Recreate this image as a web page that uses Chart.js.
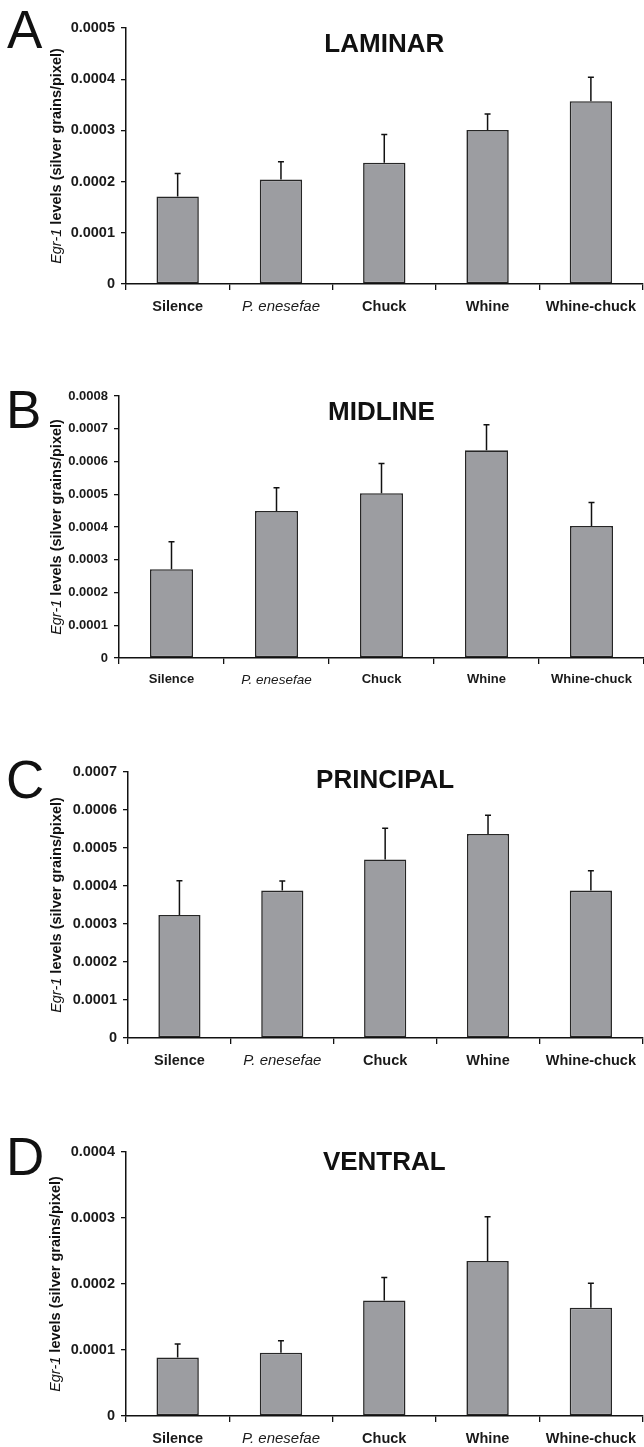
<!DOCTYPE html>
<html>
<head>
<meta charset="utf-8">
<script src="https://cdn.jsdelivr.net/npm/chart.js@4.4.1/dist/chart.umd.min.js"></script>
<style>
  html, body { margin: 0; padding: 0; background: #fff; overflow: hidden; }
  body { width: 644px; height: 1447px; position: relative; }
  canvas { position: absolute; left: 0; }
</style>
</head>
<body>
<canvas id="chartA" width="644" height="324"></canvas>
<canvas id="chartB" width="644" height="330"></canvas>
<canvas id="chartC" width="644" height="334"></canvas>
<canvas id="chartD" width="644" height="332"></canvas>
<script>
// data
const categories = ['Silence', 'P. enesefae', 'Chuck', 'Whine', 'Whine-chuck'];
const panelLetters = ['A', 'B', 'C', 'D'];
const panelTitles = ['LAMINAR', 'MIDLINE', 'PRINCIPAL', 'VENTRAL'];
const yMaxValues = [0.0005, 0.0008, 0.0007, 0.0004];
const yStep = 0.0001;

const laminarMeans   = [0.000171, 0.000204, 0.000237, 0.000301, 0.000357];
const laminarSE      = [0.000045, 0.000035, 0.000055, 0.000031, 0.000047];
const midlineMeans   = [0.000271, 0.000449, 0.000503, 0.000634, 0.000403];
const midlineSE      = [0.000084, 0.000071, 0.000091, 0.000078, 0.000072];
const principalMeans = [0.000324, 0.000388, 0.000470, 0.000537, 0.000388];
const principalSE    = [0.000090, 0.000025, 0.000082, 0.000049, 0.000052];
const ventralMeans   = [0.0000885, 0.000096, 0.000175, 0.000235, 0.000164];
const ventralSE      = [0.0000205, 0.000018, 0.000035, 0.000067, 0.000037];

const allMeans = [laminarMeans, midlineMeans, principalMeans, ventralMeans];
const allSE = [laminarSE, midlineSE, principalSE, ventralSE];

// layout of each panel (page pixels)
const panels = [
  {id: 'chartA', axisTop: 28,   axisBottom: 284,  axisLeft: 126, titleDy: 17, letterX: 7, letterTop: 10,   yFont: 14.5, xFont: 14.5, yTitleX: 57},
  {id: 'chartB', axisTop: 396,  axisBottom: 658,  axisLeft: 119, titleDy: 17, letterX: 6, letterTop: 390,  yFont: 13,   xFont: 13,   yTitleX: 57},
  {id: 'chartC', axisTop: 772,  axisBottom: 1038, axisLeft: 128, titleDy: 9,  letterX: 6, letterTop: 760,  yFont: 14.5, xFont: 14.5, yTitleX: 57},
  {id: 'chartD', axisTop: 1152, axisBottom: 1416, axisLeft: 126, titleDy: 11, letterX: 6, letterTop: 1137, yFont: 14.5, xFont: 14.5, yTitleX: 56}
];

const FONT = "'Liberation Sans', Arial, Helvetica, sans-serif";
Chart.defaults.font.family = FONT;
Chart.defaults.color = '#1a1a1a';

const PAD_TOP = 28;
const X_AXIS_H = 40;

// error bars, panel letter, title and y-axis title
const decorPlugin = {
  id: 'decor',
  afterDatasetsDraw(chart) {
    const ctx = chart.ctx;
    const meta = chart.getDatasetMeta(0);
    const ds = chart.data.datasets[0];
    const y = chart.scales.y;
    ctx.save();
    ctx.strokeStyle = '#111';
    ctx.lineWidth = 1.5;
    meta.data.forEach((bar, i) => {
      const top = y.getPixelForValue(ds.data[i] + ds.errorSE[i]);
      ctx.beginPath();
      ctx.moveTo(bar.x, bar.y);
      ctx.lineTo(bar.x, top);
      ctx.moveTo(bar.x - 3, top);
      ctx.lineTo(bar.x + 3, top);
      ctx.stroke();
    });
    ctx.restore();
  },
  afterDraw(chart) {
    const ctx = chart.ctx;
    const p = chart.options.plugins.decor;
    const area = chart.chartArea;
    ctx.save();
    ctx.fillStyle = '#111';
    // big panel letter
    ctx.font = '53px ' + FONT;
    ctx.textAlign = 'left';
    ctx.textBaseline = 'alphabetic';
    ctx.fillText(p.letter, p.letterX, p.letterTop + 53 * 0.716);
    // panel title
    ctx.font = 'bold 26px ' + FONT;
    ctx.textAlign = 'center';
    ctx.textBaseline = 'middle';
    ctx.fillText(p.title, (area.left + area.right) / 2, area.top + p.titleDy);
    // y-axis title, italic gene name + bold rest
    const part1 = 'Egr-1 ';
    const part2 = 'levels (silver grains/pixel)';
    const f1 = 'italic 14.5px ' + FONT;
    const f2 = 'bold 14.5px ' + FONT;
    ctx.font = f1; const w1 = ctx.measureText(part1).width;
    ctx.font = f2; const w2 = ctx.measureText(part2).width;
    ctx.translate(p.yTitleX, (area.top + area.bottom) / 2);
    ctx.rotate(-Math.PI / 2);
    ctx.textAlign = 'left';
    ctx.font = f1; ctx.fillText(part1, -(w1 + w2) / 2, 0);
    ctx.font = f2; ctx.fillText(part2, -(w1 + w2) / 2 + w1, 0);
    ctx.restore();
  }
};

panels.forEach((p, k) => {
  const canvas = document.getElementById(p.id);
  const canvasTop = p.axisTop - PAD_TOP;
  canvas.style.top = canvasTop + 'px';

  new Chart(canvas.getContext('2d'), {
    type: 'bar',
    data: {
      labels: categories,
      datasets: [{
        data: allMeans[k],
        errorSE: allSE[k],
        backgroundColor: '#9c9da1',
        borderColor: '#262626',
        borderWidth: 1.6,
        borderSkipped: false,
        barPercentage: 0.41,
        categoryPercentage: 1
      }]
    },
    options: {
      responsive: false,
      animation: false,
      layout: { padding: { top: PAD_TOP, left: 0, right: 0, bottom: 0 } },
      plugins: {
        legend: { display: false },
        tooltip: { enabled: false },
        decor: {
          letter: panelLetters[k],
          title: panelTitles[k],
          titleDy: p.titleDy,
          letterX: p.letterX,
          letterTop: p.letterTop - canvasTop,
          yTitleX: p.yTitleX
        }
      },
      scales: {
        x: {
          afterFit: s => { s.height = X_AXIS_H; },
          grid: { drawOnChartArea: false, drawTicks: true, tickLength: 6, color: '#111', lineWidth: 1.3, offset: true },
          border: { display: true, color: '#111', width: 1.5 },
          ticks: {
            padding: 8,
            color: '#1a1a1a',
            font: c => c.index === 1
              ? { size: p.xFont + 0.5, style: 'italic', weight: 'normal' }
              : { size: p.xFont, weight: 'bold' }
          }
        },
        y: {
          min: 0,
          max: yMaxValues[k],
          afterFit: s => { s.width = p.axisLeft; },
          grid: { drawOnChartArea: false, drawTicks: true, tickLength: 5, color: '#111', lineWidth: 1.3 },
          border: { display: true, color: '#111', width: 1.5 },
          ticks: {
            stepSize: yStep,
            padding: 6,
            color: '#1a1a1a',
            font: { size: p.yFont, weight: 'bold' },
            callback: v => Math.abs(v) < 1e-12 ? '0' : v.toFixed(4)
          }
        }
      }
    },
    plugins: [decorPlugin]
  });
});
</script>
</body>
</html>
